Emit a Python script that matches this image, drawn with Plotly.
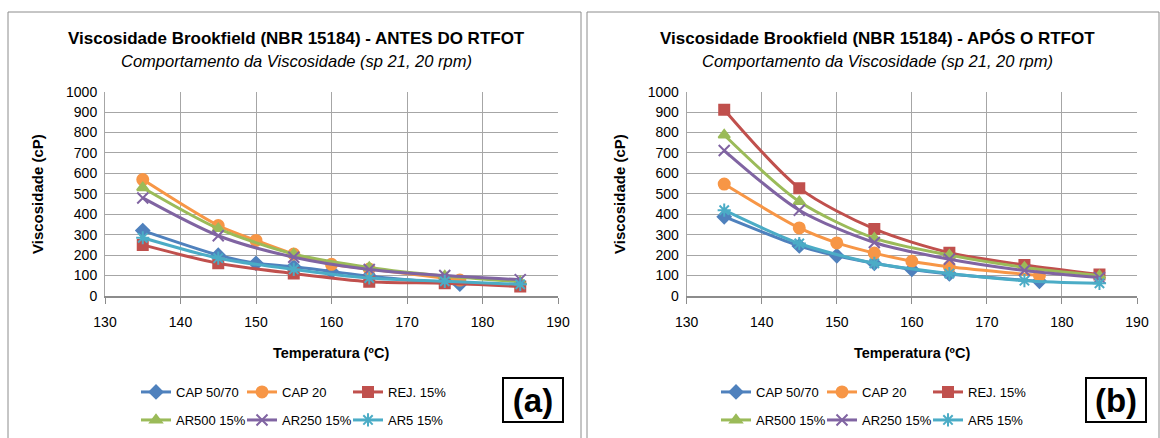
import plotly.graph_objects as go

# Temperatures (ºC)
temp_cap = [135, 145, 150, 155, 160, 165, 177]
temp_mod = [135, 145, 155, 165, 175, 185]

series_names = ["CAP 50/70", "CAP 20", "REJ. 15%", "AR500 15%", "AR250 15%", "AR5 15%"]

# Viscosity (cP) before RTFOT
antes_cap5070 = [320, 200, 160, 143, 120, 97, 58]
antes_cap20 = [570, 345, 272, 205, 155, 132, 78]
antes_rej = [250, 160, 110, 70, 62, 46]
antes_ar500 = [530, 330, 205, 140, 98, 70]
antes_ar250 = [480, 295, 190, 130, 100, 80]
antes_ar5 = [285, 185, 130, 88, 72, 57]

# Viscosity (cP) after RTFOT
apos_cap5070 = [388, 245, 197, 160, 130, 108, 72]
apos_cap20 = [548, 333, 260, 210, 170, 143, 100]
apos_rej = [912, 528, 328, 212, 152, 105]
apos_ar500 = [788, 462, 283, 200, 140, 100]
apos_ar250 = [712, 420, 262, 180, 125, 90]
apos_ar5 = [420, 257, 160, 110, 75, 62]

x_ticks = [130, 140, 150, 160, 170, 180, 190]
y_ticks = list(range(0, 1001, 100))

colors = ["#4F81BD", "#F79646", "#C0504D", "#9BBB59", "#8064A2", "#4BACC6"]
symbols = ["diamond", "circle", "square", "triangle-up", "x-thin-open", "asterisk-open"]
sizes = [10, 11, 10, 10, 11, 11]

FONT = "Liberation Sans, Arial, sans-serif"
W, H = 1160, 438


def px_x(p):
    return p / W


def px_y(p):
    return 1 - p / H


fig = go.Figure()

panels = [
    ("x", "y", [antes_cap5070, antes_cap20, antes_rej, antes_ar500, antes_ar250, antes_ar5], ("legend", "legend2")),
    ("x2", "y2", [apos_cap5070, apos_cap20, apos_rej, apos_ar500, apos_ar250, apos_ar5], ("legend3", "legend4")),
]

for xa, ya, data, legs in panels:
    for i, (name, vals) in enumerate(zip(series_names, data)):
        xs = temp_cap if i < 2 else temp_mod
        fig.add_trace(go.Scatter(
            x=xs, y=vals, name=name, xaxis=xa, yaxis=ya,
            mode="lines+markers",
            line=dict(color=colors[i], width=3, shape="spline", smoothing=0.8),
            marker=dict(symbol=symbols[i], size=sizes[i], color=colors[i],
                        line=dict(color=colors[i], width=2)),
            legend=legs[0] if i < 3 else legs[1],
            showlegend=True,
        ))

axis_common_x = dict(
    range=[130, 190], tickvals=x_ticks, showgrid=True, gridcolor="#a6a6a6", gridwidth=1,
    showline=True, linecolor="#8c8c8c", linewidth=2, ticks="outside", ticklen=6,
    tickcolor="#8c8c8c", ticklabelstandoff=6,
    tickfont=dict(family=FONT, size=14, color="black"), zeroline=False,
)
axis_common_y = dict(
    range=[0, 1000], tickvals=y_ticks, showgrid=True, gridcolor="#a6a6a6", gridwidth=1,
    showline=True, linecolor="#a6a6a6", linewidth=1, ticks="",
    ticklabelstandoff=4,
    tickfont=dict(family=FONT, size=14, color="black"), zeroline=False,
)

y_dom = [px_y(296), px_y(91.7)]

legend_common = dict(
    orientation="h", font=dict(family=FONT, size=13, color="black"),
    bgcolor="rgba(0,0,0,0)", entrywidth=61, entrywidthmode="pixels",
    xanchor="left", yanchor="middle", tracegroupgap=0, itemwidth=30,
)

fig.update_layout(
    width=W, height=H, margin=dict(l=0, r=0, t=0, b=0, autoexpand=False),
    paper_bgcolor="white", plot_bgcolor="white",
    xaxis=dict(domain=[px_x(105), px_x(558)], anchor="y", **axis_common_x),
    yaxis=dict(domain=y_dom, anchor="x", **axis_common_y),
    xaxis2=dict(domain=[px_x(686.7), px_x(1137)], anchor="y2", **axis_common_x),
    yaxis2=dict(domain=y_dom, anchor="x2", **axis_common_y),
    legend=dict(x=px_x(136), y=px_y(392), **legend_common),
    legend2=dict(x=px_x(136), y=px_y(420), **legend_common),
    legend3=dict(x=px_x(716), y=px_y(392), **legend_common),
    legend4=dict(x=px_x(716), y=px_y(420), **legend_common),
    showlegend=True,
)

# Outer chart frames
for x0, x1 in [(8, 581), (587, 1159)]:
    fig.add_shape(type="rect", xref="paper", yref="paper",
                  x0=px_x(x0), x1=px_x(x1), y0=px_y(445), y1=px_y(12),
                  line=dict(color="#8c8c8c", width=1), fillcolor="rgba(0,0,0,0)", layer="below")

titles = [
    ("Viscosidade Brookfield (NBR 15184) - ANTES DO RTFOT", 296.5, 331.5, "(a)", 533),
    ("Viscosidade Brookfield (NBR 15184) - APÓS O RTFOT", 877, 911.5, "(b)", 1116),
]
ytitle_x = [38, 620]

for (title, cx, axc, tag, tagx), ytx in zip(titles, ytitle_x):
    fig.add_annotation(text="<b>" + title + "</b>", x=px_x(cx), y=px_y(38), xref="paper", yref="paper",
                       showarrow=False, font=dict(family=FONT, size=17, color="black"),
                       xanchor="center", yanchor="middle")
    fig.add_annotation(text="<i>Comportamento da Viscosidade (sp 21, 20 rpm)</i>",
                       x=px_x(cx), y=px_y(61), xref="paper", yref="paper",
                       showarrow=False, font=dict(family=FONT, size=16.5, color="black"),
                       xanchor="center", yanchor="middle")
    fig.add_annotation(text="<b>Temperatura (ºC)</b>", x=px_x(axc), y=px_y(353), xref="paper", yref="paper",
                       showarrow=False, font=dict(family=FONT, size=14.5, color="black"),
                       xanchor="center", yanchor="middle")
    fig.add_annotation(text="<b>Viscosidade (cP)</b>", x=px_x(ytx), y=px_y(194), xref="paper", yref="paper",
                       showarrow=False, textangle=-90, font=dict(family=FONT, size=15, color="black"),
                       xanchor="center", yanchor="middle")
    fig.add_annotation(text="<b>" + tag + "</b>", x=px_x(tagx), y=px_y(400), xref="paper", yref="paper",
                       showarrow=False, font=dict(family=FONT, size=33, color="black"),
                       xanchor="center", yanchor="middle", bordercolor="black", borderwidth=2,
                       borderpad=0, bgcolor="white", width=58, height=42)

fig.write_html("out.html")
